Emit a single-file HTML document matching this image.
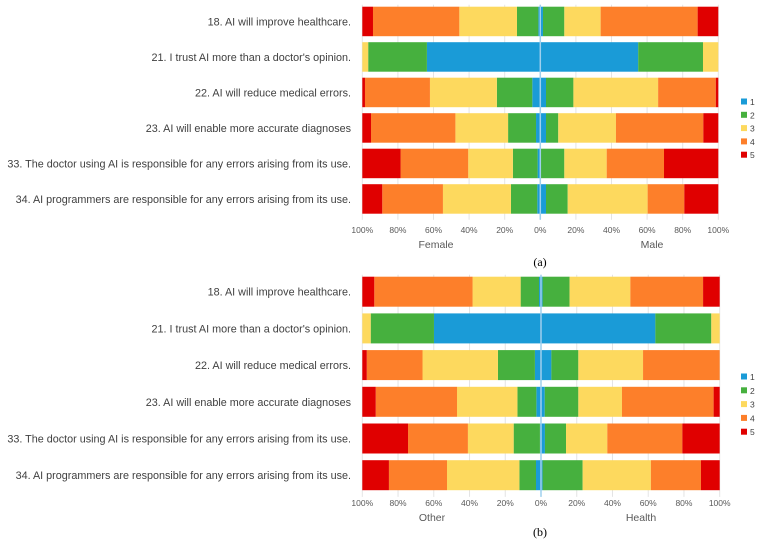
<!DOCTYPE html>
<html><head><meta charset="utf-8"><style>
body{margin:0;background:#fff;}
svg{display:block;font-family:"Liberation Sans",Arial,sans-serif;}
</style></head><body>
<svg id="c" width="757" height="550"></svg>
<script>
const questions=["18. AI will improve healthcare.","21. I trust AI more than a doctor's opinion.","22. AI will reduce medical errors.","23. AI will enable more accurate diagnoses","33. The doctor using AI is responsible for any errors arising from its use.","34. AI programmers are responsible for any errors arising from its use."];
const levels=["1","2","3","4","5"];
const tickLabels=["100%","80%","60%","40%","20%","0%","20%","40%","60%","80%","100%"];
const femaleVals=[[1.1,12,32.4,48.5,6],[63.7,33,3.3,0,0],[4.5,19.9,37.6,36.5,1.5],[2.4,15.7,29.6,47.4,4.9],[1.5,13.9,25.1,38,21.5],[1.7,14.8,38.2,34.1,11.2]];
const maleVals=[[1.5,12,20.4,54.5,11.6],[55,36.4,8.6,0,0],[3.2,15.4,47.6,32.4,1.4],[3.2,6.9,32.4,49.1,8.4],[0,13.5,23.8,32.2,30.5],[3.2,12.2,44.9,20.6,19.1]];
const otherVals=[[1.1,10.3,26.9,55,6.7],[59.9,35.4,4.7,0,0],[3.4,20.7,42.2,31.2,2.5],[2.6,10.6,33.8,45.5,7.5],[0.6,14.7,25.6,33.5,25.6],[2.8,9.3,40.5,32.5,14.9]];
const healthVals=[[0.9,15.1,34,40.7,9.3],[64,31.3,4.7,0,0],[5.8,15.1,36.2,42.9,0],[2.1,18.8,24.4,51.3,3.4],[2.2,11.8,23.1,42,20.9],[0.9,22.4,38.2,28,10.5]];
const colors=["#1a9bd7","#46b03e","#fdd95e","#fd7f2a","#e00000"];
const NS="http://www.w3.org/2000/svg";
const svg=document.getElementById('c');
function mk(t,a,p){const e=document.createElementNS(NS,t);for(const k in a)e.setAttribute(k,a[k]);(p||svg).appendChild(e);return e;}
function panel(cfg){
  const g=mk('g',{});
  
  
  const x0=cfg.x0,half=cfg.half;
  const xs=v=>x0+v/100*half;
  tickLabels.forEach((t,i)=>{
    const v=(i-5)*20;
    const l=mk('line',{x1:xs(v),x2:xs(v),y1:cfg.top-2,y2:cfg.top+cfg.pitch*6,stroke:'#e4e4e4','stroke-width':1},g);
    
    
    const tx=mk('text',{x:xs(v),y:cfg.tickY,'font-size':8.5,fill:'#595959','text-anchor':'middle'},g);
    tx.textContent=t;
    
    
  });
  questions.forEach((q,r)=>{
    const y=cfg.top+r*cfg.pitch;
    const lab=mk('text',{x:351,y:y+cfg.h/2+4,'font-size':10.8,fill:'#404040','text-anchor':'end'},g);
    lab.textContent=q;
    
    
    let acc=0;
    cfg.left[r].forEach((v,k)=>{
      const rc=mk('rect',{x:xs(-(acc+v)),y:y,width:xs(-acc)-xs(-(acc+v)),height:cfg.h,fill:colors[k]},g);
      
      
      acc+=v;
    });
    acc=0;
    cfg.right[r].forEach((v,k)=>{
      const rc=mk('rect',{x:xs(acc),y:y,width:xs(acc+v)-xs(acc),height:cfg.h,fill:colors[k]},g);
      
      
      acc+=v;
    });
  });
  const cl=mk('line',{x1:x0,x2:x0,y1:cfg.top-2,y2:cfg.top+cfg.pitch*6,stroke:'#9fd0ee','stroke-width':1.5},g);
  
  
  const gl=mk('text',{x:cfg.lx,y:cfg.tickY+15,'font-size':10.5,fill:'#595959','text-anchor':'middle'},g);
  gl.textContent=cfg.leftName;
  
  
  const gr=mk('text',{x:cfg.rx,y:cfg.tickY+15,'font-size':10.5,fill:'#595959','text-anchor':'middle'},g);
  gr.textContent=cfg.rightName;
  
  
  const cap=mk('text',{x:540,y:cfg.capY,'font-size':12,fill:'#000','text-anchor':'middle','font-family':'Liberation Serif,serif'},g);
  cap.textContent=cfg.cap;
  
  
  levels.forEach((lv,k)=>{
    const ly=cfg.legY+k*cfg.legStep;
    const s=mk('rect',{x:741,y:ly-3.5,width:6,height:6,fill:colors[k]},g);
    
    
    const t=mk('text',{x:750,y:ly+3,'font-size':8.5,fill:'#404040'},g);
    t.textContent=lv;
    
    
  });
}
panel({name:'panel-a',x0:540.3,half:178,top:6.7,pitch:35.5,h:29.5,tickY:233,left:femaleVals,right:maleVals,leftName:'Female',rightName:'Male',lx:436,rx:652,cap:'(a)',capY:266,legY:102,legStep:13.3});
panel({name:'panel-b',x0:541,half:178.7,top:276.7,pitch:36.7,h:30,tickY:506,left:otherVals,right:healthVals,leftName:'Other',rightName:'Health',lx:432,rx:641,cap:'(b)',capY:536,legY:377,legStep:13.8});
</script>
</body></html>
